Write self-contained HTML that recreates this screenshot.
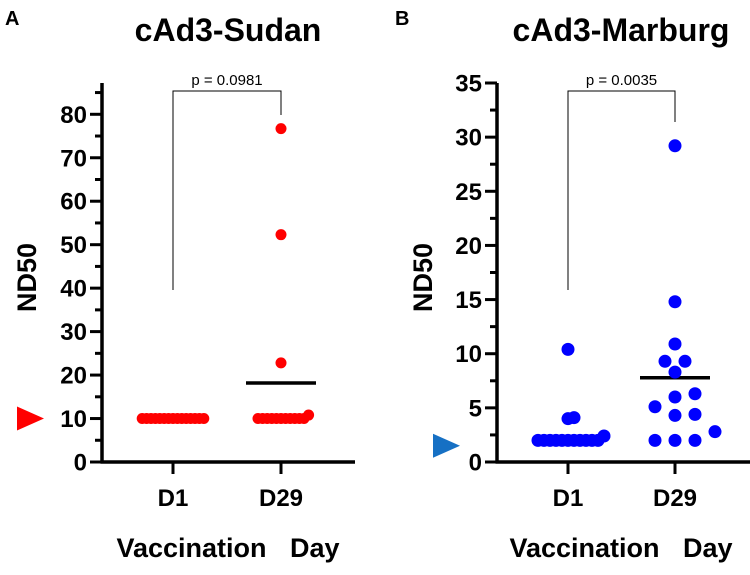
<!DOCTYPE html>
<html><head><meta charset="utf-8"><style>
body{margin:0;background:#fff;}
svg text{font-family:"Liberation Sans",Arial,sans-serif;}
</style></head><body>
<svg id="chart" width="750" height="570" xmlns="http://www.w3.org/2000/svg">
<g id="root"></g>
</svg>
<script>
// Panel A data (cAd3-Sudan)
const categories = ["D1", "D29"];
const sudanD1 = [10,10,10,10,10,10,10,10,10,10,10,10,10,10,10];
const sudanD29 = [76.7,52.3,22.8,10.8,10,10,10,10,10,10,10,10,10,10,10];
const sudanTicks = [0,10,20,30,40,50,60,70,80];
const sudanP = "p = 0.0981";
// Panel B data (cAd3-Marburg)
const marburgD1 = [10.4,4.1,4.0,2.4,2,2,2,2,2,2,2,2,2,2,2];
const marburgD29 = [29.2,14.8,10.9,9.3,9.3,8.3,6.3,6.0,5.1,4.4,4.3,2.8,2,2,2];
const marburgTicks = [0,5,10,15,20,25,30,35];
const marburgP = "p = 0.0035";

const NS = "http://www.w3.org/2000/svg";
const root = document.getElementById("root");
function mk(tag, attrs, parent){
  const e = document.createElementNS(NS, tag);
  for (const k in attrs) e.setAttribute(k, attrs[k]);
  (parent||root).appendChild(e);
  return e;
}
function mean(a){return a.reduce((s,v)=>s+v,0)/a.length;}

function panel(cfg){
  const g = mk("g", {});
  
  
  const y = v => cfg.y0 - (v / cfg.yMax) * (cfg.y0 - cfg.yTop);
  const xc = [cfg.xD1, cfg.xD29];
  const L = mk("text", {x:cfg.letterX, y:25, "font-size":20, "font-weight":"bold"}, g);
  L.textContent = cfg.letter;
  
  
  const T = mk("text", {x:cfg.titleX, y:41, "font-size":32, "font-weight":"bold", "text-anchor":"middle"}, g);
  T.textContent = cfg.title;
  
  
  const ya = mk("line", {x1:cfg.ax, y1:cfg.yTop, x2:cfg.ax, y2:cfg.y0+1.5, stroke:"#000","stroke-width":3.5}, g);
  
  
  const xa = mk("line", {x1:cfg.ax-1.5, y1:cfg.y0, x2:cfg.axEnd, y2:cfg.y0, stroke:"#000","stroke-width":3.5}, g);
  
  
  const tk = cfg.ticks;
  const step = tk[1]-tk[0];
  tk.forEach((t,i)=>{
    const tl = mk("line", {x1:cfg.ax-12, y1:y(t), x2:cfg.ax, y2:y(t), stroke:"#000","stroke-width":3}, g);
    
    
    const lb = mk("text", {x:cfg.ax-15, y:y(t)+8.5, "font-size":24, "font-weight":"bold","text-anchor":"end"}, g);
    lb.textContent = t;
    
    
    const mv = t + step/2;
    if (mv <= cfg.yMax) {
      const ml = mk("line", {x1:cfg.ax-7, y1:y(mv), x2:cfg.ax, y2:y(mv), stroke:"#000","stroke-width":3}, g);
      
      
    }
  });
  const yt = mk("text", {x:0, y:0, "font-size":27, "font-weight":"bold","text-anchor":"middle", transform:`translate(${cfg.yTitleX},${(cfg.y0+cfg.yTop)/2+5}) rotate(-90)`}, g);
  yt.textContent = "ND50";
  
  
  categories.forEach((c,i)=>{
    const t = mk("line", {x1:xc[i], y1:cfg.y0, x2:xc[i], y2:cfg.y0+12, stroke:"#000","stroke-width":3}, g);
    
    
    const l = mk("text", {x:xc[i], y:506, "font-size":24, "font-weight":"bold","text-anchor":"middle"}, g);
    l.textContent = c;
    
    
  });
  const xt = mk("text", {x:cfg.xTitleX, y:557, "font-size":27, "font-weight":"bold","text-anchor":"middle", "word-spacing":"16"}, g);
  xt.textContent = "Vaccination Day";
  
  
  [cfg.d1, cfg.d29].forEach((arr,i)=>{
    if (i===0 && !cfg.showD1Mean) return;
    const m = mean(arr);
    const ml = mk("line", {x1:xc[i]-35, y1:y(m), x2:xc[i]+35, y2:y(m), stroke:"#000","stroke-width":3.5}, g);
    
    
  });
  [cfg.d1, cfg.d29].forEach((arr,i)=>{
    const placed = [];
    const sorted = arr.slice().sort((a,b)=>a-b);
    const sp = cfg.spread[i], md = cfg.minDist[i];
    sorted.forEach(v=>{
      const py = y(v);
      let px = xc[i];
      for (let k=0;k<80;k++){
        const off = (k===0?0:(k%2?1:-1)*Math.ceil(k/2)*sp);
        const cx = xc[i]+off;
        if (placed.every(p=>Math.hypot(p[0]-cx,p[1]-py) >= md)) { px = cx; break; }
      }
      placed.push([px,py]);
      const c = mk("circle", {cx:px, cy:py, r:cfg.r, fill:cfg.color}, g);
      
      
    });
  });
  const top = 91;
  const br = mk("polyline", {points:`${xc[0]},${cfg.brLeft} ${xc[0]},${top} ${xc[1]},${top} ${xc[1]},${cfg.brRight}`, fill:"none", stroke:"#000","stroke-width":1}, g);
  
  
  const pt = mk("text", {x:(xc[0]+xc[1])/2, y:85, "font-size":15, "text-anchor":"middle"}, g);
  pt.textContent = cfg.p;
  
  
  const a = mk("polygon", {points:`${cfg.arrX},${y(cfg.arrV)-12} ${cfg.arrX+27},${y(cfg.arrV)} ${cfg.arrX},${y(cfg.arrV)+12}`, fill:cfg.arrColor}, g);
  
  
}

panel({name:"panel-a-sudan", letter:"A", letterX:5, title:"cAd3-Sudan", titleX:228, xTitleX:228,
  ax:102, axEnd:355, y0:462, yTop:83, yMax:87.2, ticks:sudanTicks, xD1:173, xD29:281,
  d1:sudanD1, d29:sudanD29, color:"#ff0000", r:5.5, spread:[4.4,4.6], minDist:[4.3,4.5], showD1Mean:true,
  brLeft:290, brRight:115, p:sudanP, yTitleX:36, arrX:17, arrV:10, arrColor:"#ff0000"});
panel({name:"panel-b-marburg", letter:"B", letterX:395, title:"cAd3-Marburg", titleX:621, xTitleX:621,
  ax:497, axEnd:750, y0:462, yTop:83, yMax:35, ticks:marburgTicks, xD1:568, xD29:675,
  d1:marburgD1, d29:marburgD29, color:"#0000ff", r:6.5, spread:[6,10], minDist:[6,13.5], showD1Mean:false,
  brLeft:290, brRight:122, p:marburgP, yTitleX:432, arrX:433, arrV:1.5, arrColor:"#1670c4"});
</script>
</body></html>
